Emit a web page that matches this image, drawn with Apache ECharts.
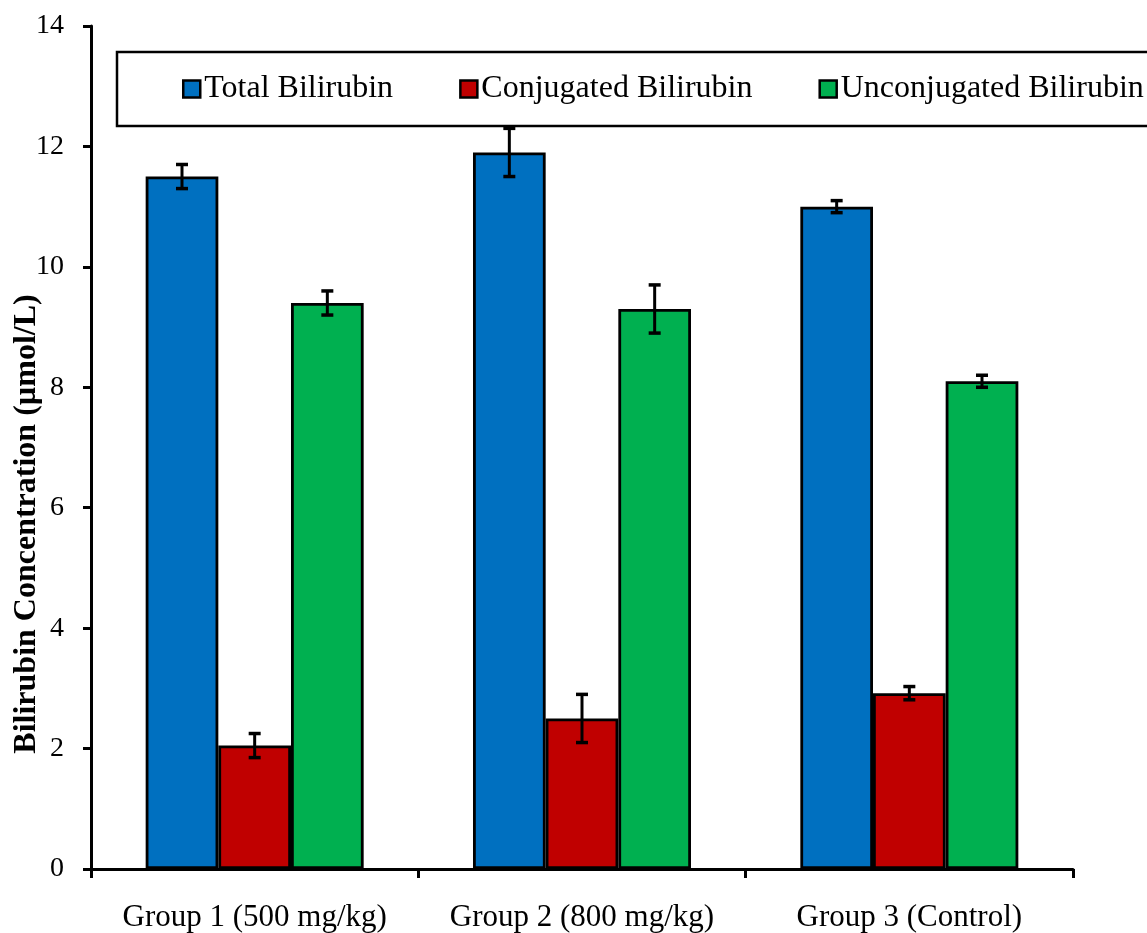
<!DOCTYPE html>
<html>
<head>
<meta charset="utf-8">
<script src="https://cdn.jsdelivr.net/npm/echarts@6/dist/echarts.min.js"></script>
<style>
html,body{margin:0;padding:0;background:#fff;}
#chart{width:1147px;height:933px;}
</style>
</head>
<body>
<div id="chart"></div>
<script>
const categories = ['Group 1 (500 mg/kg)', 'Group 2 (800 mg/kg)', 'Group 3 (Control)'];
const seriesNames = ['Total Bilirubin', 'Conjugated Bilirubin', 'Unconjugated Bilirubin'];
const totalValues = [11.5, 11.9, 11.0];
const conjugatedValues = [2.05, 2.5, 2.92];
const unconjugatedValues = [9.4, 9.3, 8.1];
const totalErrors = [0.2, 0.4, 0.1];
const conjugatedErrors = [0.2, 0.4, 0.11];
const unconjugatedErrors = [0.2, 0.4, 0.1];
const yTicks = [0, 2, 4, 6, 8, 10, 12, 14];
const yTitle = 'Bilirubin Concentration (µmol/L)';

const FONT = 'Liberation Serif';
const colors = ['#0070C0', '#C00000', '#00B050'];
const CAT_GAP = 0.334;

const chart = echarts.init(document.getElementById('chart'));

function barSeries(name, values, color) {
  return {
    name: name,
    type: 'bar',
    data: values,
    barGap: '0%',
    barCategoryGap: (CAT_GAP * 100) + '%',
    itemStyle: { color: color, borderColor: '#000', borderWidth: 2.8 },
    emphasis: { disabled: true },
    z: 2
  };
}

function errSeries(values, errs, idx) {
  return {
    type: 'custom',
    data: values.map((v, i) => [i, v, errs[i]]),
    encode: { x: 0, y: 1 },
    z: 10,
    silent: true,
    renderItem: function (params, api) {
      const ci = api.value(0), v = api.value(1), e = api.value(2);
      const band = api.size([1, 0])[0];
      const bw = band * (1 - CAT_GAP) / 3;
      const cx = api.coord([ci, v])[0] + (idx - 1) * bw;
      const yTop = api.coord([ci, v + e])[1];
      const yBot = api.coord([ci, v - e])[1];
      const hw = 6;
      const st = { stroke: '#000', lineWidth: 3 };
      return {
        type: 'group',
        children: [
          { type: 'line', shape: { x1: cx, y1: yTop, x2: cx, y2: yBot }, style: st },
          { type: 'line', shape: { x1: cx - hw, y1: yTop, x2: cx + hw, y2: yTop }, style: { stroke: '#000', lineWidth: 3.5 } },
          { type: 'line', shape: { x1: cx - hw, y1: yBot, x2: cx + hw, y2: yBot }, style: { stroke: '#000', lineWidth: 3.5 } }
        ]
      };
    }
  };
}

const option = {
  backgroundColor: '#fff',
  animation: false,
  textStyle: { fontFamily: FONT, color: '#000' },
  grid: { left: 91, right: 74, top: 26, bottom: 64, containLabel: false },
  graphic: [
    {
      type: 'rect',
      z: 0,
      shape: { x: 117, y: 52, width: 1100, height: 74 },
      style: { fill: '#fff', stroke: '#000', lineWidth: 2.5 }
    },
    {
      type: 'text',
      z: 5,
      x: 27, y: 524,
      rotation: Math.PI / 2,
      style: {
        text: yTitle,
        font: 'bold 32px "' + FONT + '"',
        fill: '#000',
        align: 'center',
        verticalAlign: 'middle'
      }
    }
  ],
  legend: {
    data: seriesNames,
    left: 182,
    top: 73,
    padding: 0,
    itemGap: 66,
    itemWidth: 17,
    itemHeight: 17,
    icon: 'rect',
    itemStyle: { borderColor: '#000', borderWidth: 2.5 },
    textStyle: { fontFamily: FONT, fontSize: 32, color: '#000', padding: [0, 0, 0, -1] },
    selectedMode: false,
    z: 6
  },
  xAxis: {
    type: 'category',
    data: categories,
    axisLine: { lineStyle: { color: '#000', width: 3 } },
    axisTick: { show: true, interval: 0, alignWithLabel: false, length: 9, lineStyle: { color: '#000', width: 3 } },
    axisLabel: { fontFamily: FONT, fontSize: 31, color: '#000', margin: 33, interval: 0 },
    splitLine: { show: false }
  },
  yAxis: {
    type: 'value',
    min: yTicks[0],
    max: yTicks[yTicks.length - 1],
    interval: yTicks[1] - yTicks[0],
    axisLine: { show: true, lineStyle: { color: '#000', width: 3 } },
    axisTick: { show: true, length: 8, lineStyle: { color: '#000', width: 3 } },
    axisLabel: { fontFamily: FONT, fontSize: 28, color: '#000', margin: 27 },
    splitLine: { show: false }
  },
  series: [
    barSeries(seriesNames[0], totalValues, colors[0]),
    barSeries(seriesNames[1], conjugatedValues, colors[1]),
    barSeries(seriesNames[2], unconjugatedValues, colors[2]),
    errSeries(totalValues, totalErrors, 0),
    errSeries(conjugatedValues, conjugatedErrors, 1),
    errSeries(unconjugatedValues, unconjugatedErrors, 2)
  ]
};

chart.setOption(option);
</script>
</body>
</html>
